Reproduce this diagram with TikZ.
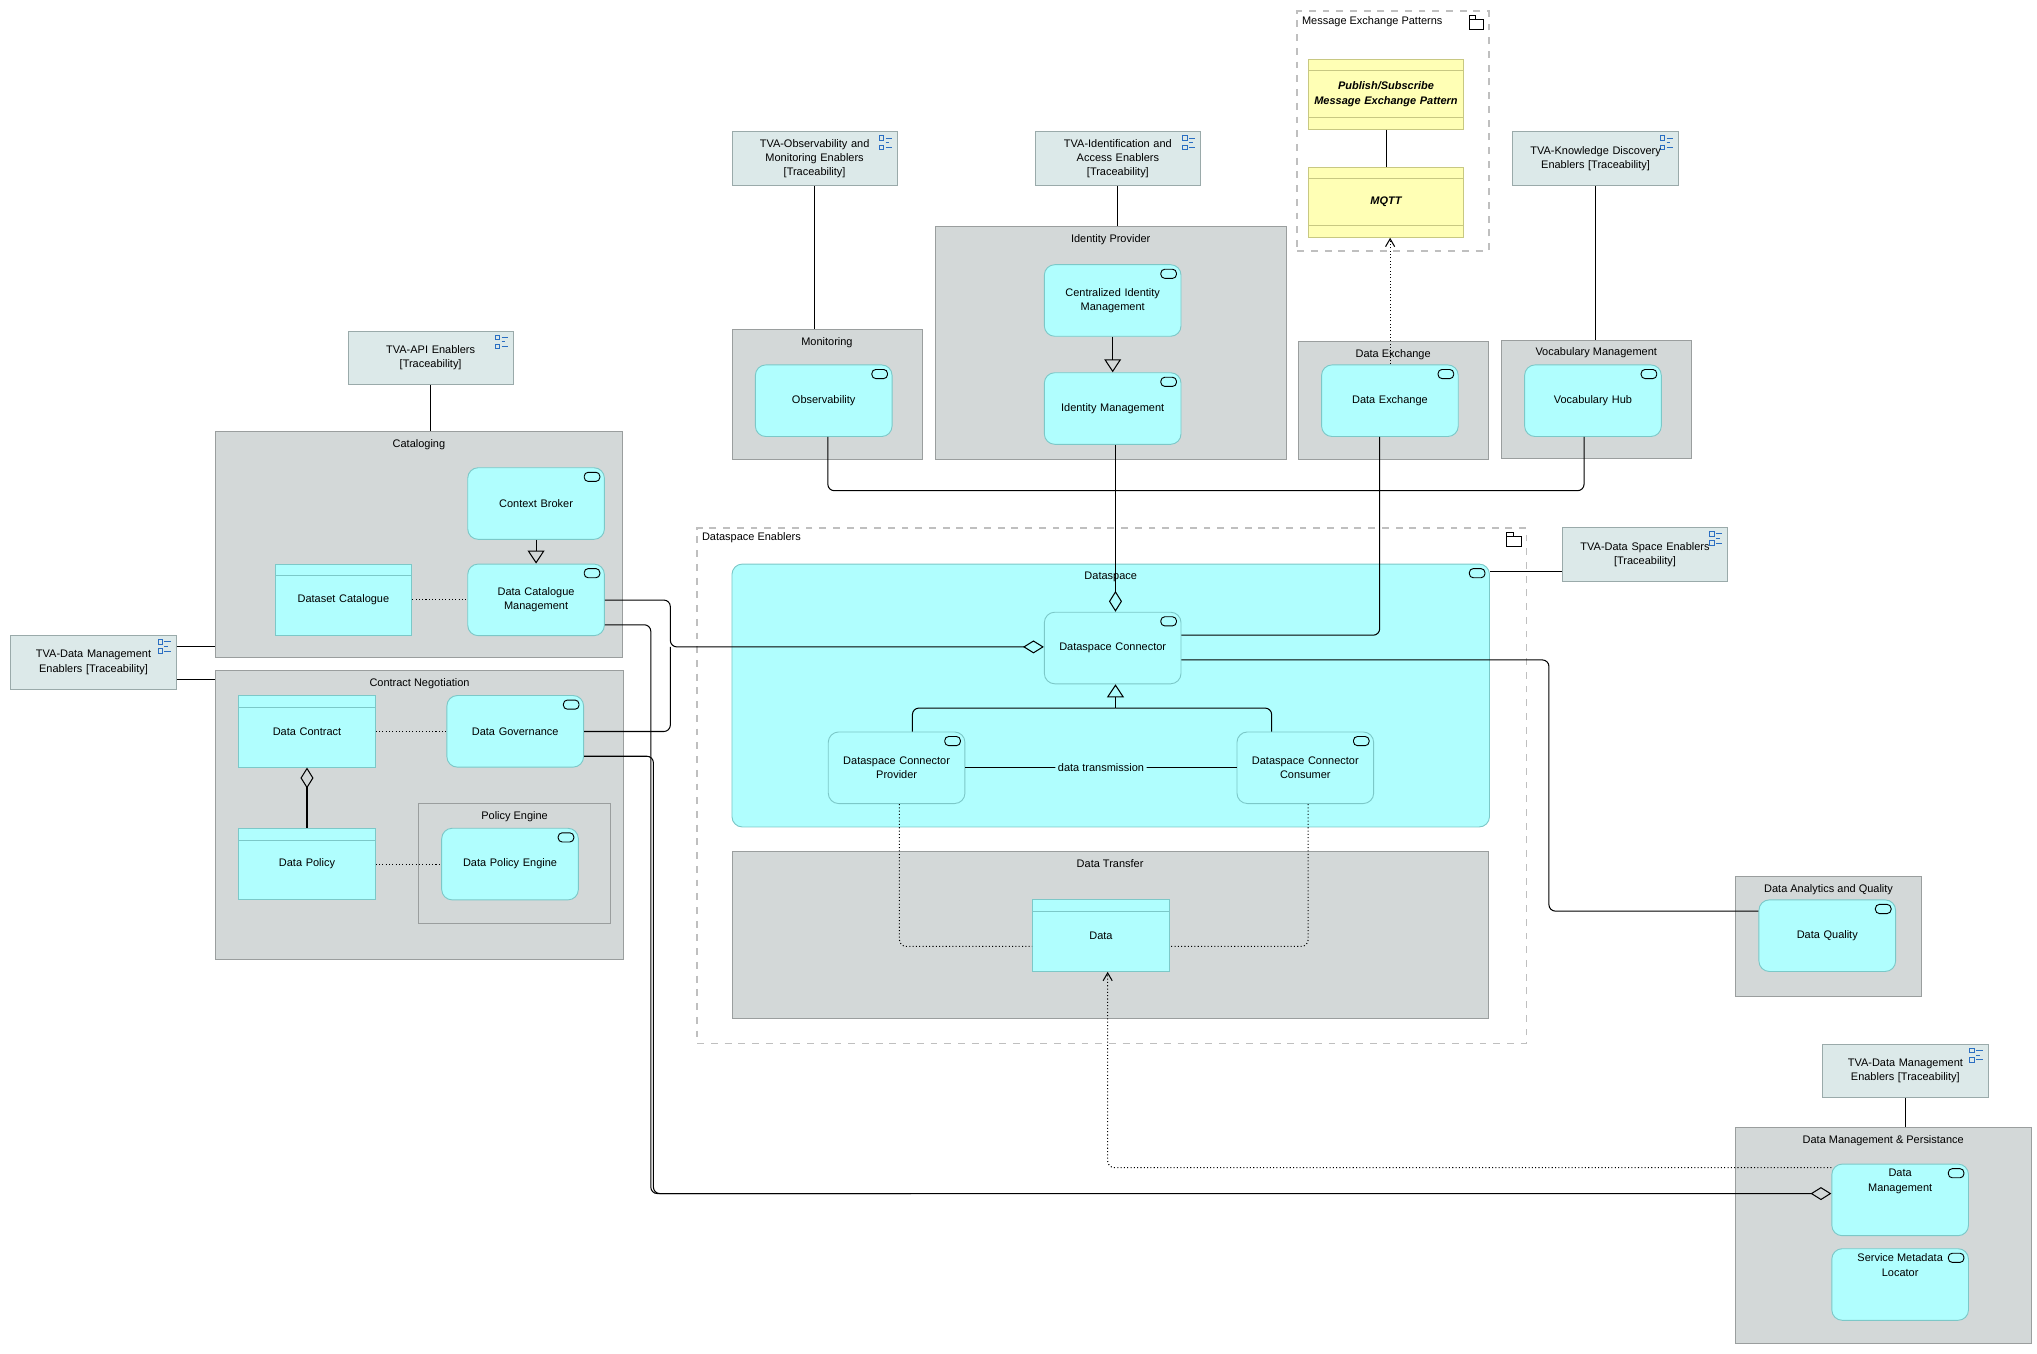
\documentclass[tikz,border=0pt]{standalone}
\usepackage{fontspec}
\setmainfont{Liberation Sans}
\usetikzlibrary{arrows.meta}
\definecolor{svcfill}{HTML}{B0FEFE}
\definecolor{svcline}{HTML}{7CC8C8}
\definecolor{grpfill}{HTML}{D3D8D8}
\definecolor{grpline}{HTML}{9A9E9E}
\definecolor{tvafill}{HTML}{DCE9E9}
\definecolor{tvaline}{HTML}{9AAAAA}
\definecolor{patfill}{HTML}{FFFFB5}
\definecolor{patline}{HTML}{C8C882}
\definecolor{iconblue}{HTML}{2A6EC2}
\begin{document}
\begin{tikzpicture}[x=0.2mm,y=-0.2mm,font=\fontsize{4.8}{6.2}\selectfont,
  every node/.style={anchor=north west,inner sep=0pt,align=center},
  svc/.style={draw=svcline,fill=svcfill,rounded corners=1.6mm,minimum width=21mm,minimum height=11mm,text width=19mm,
    path picture={\draw[black,rounded corners=0.6mm] ([shift={(-3.1mm,-0.7mm)}]path picture bounding box.north east) rectangle ++(2.4mm,-1.4mm);}},
  dobj/.style={draw=svcline,fill=svcfill,minimum width=21mm,minimum height=11mm,text width=19mm,
    path picture={\draw[svcline] ([yshift=-1.8mm]path picture bounding box.north west) -- ++(21mm,0);}},
  pat/.style={draw=patline,fill=patfill,minimum width=23.8mm,minimum height=10.8mm,text width=23mm,font=\fontsize{4.8}{6.2}\selectfont\bfseries\itshape,
    path picture={\draw[patline] ([yshift=-1.8mm]path picture bounding box.north west) -- ++(24mm,0)
      ([yshift=1.8mm]path picture bounding box.south west) -- ++(24mm,0);}},
  grp/.style={draw=grpline,fill=grpfill},
  dgrp/.style={draw=black!25,dashed,thick,
    path picture={\draw[black,solid,thin] ([shift={(-3mm,-1.3mm)}]path picture bounding box.north east) rectangle ++(2.2mm,-1.5mm)
      ([shift={(-3mm,-1.3mm)}]path picture bounding box.north east) -- ++(0,0.6mm) -- ++(1mm,0) -- ++(0,-0.6mm);}},
  glabel/.style={anchor=north,inner sep=1.2mm},
  dlabel/.style={anchor=north west,inner sep=0.8mm},
  tva/.style={draw=tvaline,fill=tvafill,minimum width=25.4mm,minimum height=8.2mm,text width=22mm,
    path picture={\draw[iconblue,line width=0.3pt]
      ([shift={(-2.8mm,-0.6mm)}]path picture bounding box.north east) rectangle ++(0.7mm,-0.7mm)
      ([shift={(-2.8mm,-2mm)}]path picture bounding box.north east) rectangle ++(0.7mm,-0.7mm)
      ([shift={(-1.8mm,-0.95mm)}]path picture bounding box.north east) -- ++(1mm,0)
      ([shift={(-1.8mm,-1.65mm)}]path picture bounding box.north east) -- ++(0.6mm,0)
      ([shift={(-1.8mm,-2.35mm)}]path picture bounding box.north east) -- ++(1mm,0);}},
  conn/.style={draw,line width=0.45pt,rounded corners=1mm},
  agg/.style={conn,-{Diamond[open,length=3.2mm,width=2mm]}},
  spec/.style={conn,-{Triangle[open,length=2mm,width=2.6mm]}},
  dots/.style={draw,densely dotted,line width=0.45pt,rounded corners=1mm},
  flow/.style={dots,-{Straight Barb[length=1.2mm,width=1.4mm]}}]
\useasboundingbox (0,0) rectangle (1565,1040);
% groups
\node[grp,minimum width=62.6mm,minimum height=34.8mm,label={[glabel]north:Cataloging}] (catalog) at (165,331) {};
\node[grp,minimum width=62.8mm,minimum height=44.4mm,label={[glabel]north:Contract Negotiation}] (contract) at (165,515) {};
\node[grp,minimum width=29.6mm,minimum height=18.4mm,label={[glabel]north:Policy Engine}] (poleng) at (321,617) {};
\node[grp,minimum width=29.2mm,minimum height=20mm,label={[glabel]north:Monitoring}] (monitor) at (562,253) {};
\node[grp,minimum width=54mm,minimum height=35.8mm,label={[glabel]north:Identity Provider}] (idprov) at (718,174) {};
\node[dgrp,minimum width=29.4mm,minimum height=36.8mm,label={[dlabel]north west:Message Exchange Patterns}] (mep) at (996,8) {};
\node[grp,minimum width=29.2mm,minimum height=18.2mm,label={[glabel]north:Data Exchange}] (dexgrp) at (997,262) {};
\node[grp,minimum width=29.2mm,minimum height=18.2mm,label={[glabel]north:Vocabulary Management}] (vocab) at (1153,261) {};
\node[dgrp,minimum width=127.4mm,minimum height=79.2mm,label={[dlabel]north west:Dataspace Enablers}] (dsenab) at (535,405) {};
\node[svc,minimum width=116.4mm,minimum height=40.4mm,rounded corners=1.6mm,label={[glabel]north:Dataspace}] (dspace) at (562,433) {};
\node[grp,minimum width=116.2mm,minimum height=25.6mm,label={[glabel]north:Data Transfer}] (dtrans) at (562,654) {};
\node[grp,minimum width=28.6mm,minimum height=18.4mm,label={[glabel]north:Data Analytics and Quality}] (daq) at (1333,673) {};
\node[grp,minimum width=45.4mm,minimum height=33.2mm,label={[glabel]north:Data Management \& Persistance}] (dmp) at (1333,866) {};
% traceability boxes
\node[tva] (tvaapi) at (267,254) {TVA-API Enablers\\{}[Traceability]};
\node[tva] (tvadml) at (8,488) {TVA-Data Management\\Enablers [Traceability]};
\node[tva] (tvaobs) at (562,101) {TVA-Observability and\\Monitoring Enablers\\{}[Traceability]};
\node[tva] (tvaida) at (795,101) {TVA-Identification and\\Access Enablers\\{}[Traceability]};
\node[tva] (tvakd) at (1162,101) {TVA-Knowledge Discovery\\Enablers [Traceability]};
\node[tva] (tvads) at (1200,405) {TVA-Data Space Enablers\\{}[Traceability]};
\node[tva] (tvadmr) at (1400,802) {TVA-Data Management\\Enablers [Traceability]};
% elements
\node[svc] (cbroker) at (359,359) {Context Broker};
\node[svc] (dcm) at (359,433) {Data Catalogue\\Management};
\node[dobj] (dscat) at (211,433) {Dataset Catalogue};
\node[dobj] (dcontr) at (183,534) {Data Contract};
\node[svc] (dgov) at (343,534) {Data Governance};
\node[dobj] (dpol) at (183,636) {Data Policy};
\node[svc] (dpeng) at (339,636) {Data Policy Engine};
\node[svc] (obs) at (580,280) {Observability};
\node[svc] (cidm) at (802,203) {Centralized Identity\\Management};
\node[svc] (idm) at (802,286) {Identity Management};
\node[pat] (pubsub) at (1005,45) {Publish/Subscribe\\Message Exchange Pattern};
\node[pat] (mqtt) at (1005,128) {MQTT};
\node[svc] (dexch) at (1015,280) {Data Exchange};
\node[svc] (vhub) at (1171,280) {Vocabulary Hub};
\node[svc] (dsconn) at (802,470) {Dataspace Connector};
\node[svc] (prov) at (636,562) {Dataspace Connector\\Provider};
\node[svc] (cons) at (950,562) {Dataspace Connector\\Consumer};
\node[dobj] (data) at (793,691) {Data};
\node[svc] (dqual) at (1351,691) {Data Quality};
\node[svc,label={[anchor=north,inner sep=0.8mm]north:Data\\Management}] (dmgmt) at (1407,894) {};
\node[svc,label={[anchor=north,inner sep=0.8mm]north:Service Metadata\\Locator}] (smloc) at (1407,959) {};
% relations
\draw[conn] (tvaapi.south) -- (tvaapi.south |- catalog.north);
\draw[conn] (tvadml.east |- 0,497) -- (catalog.west |- 0,497);
\draw[conn] (tvadml.east |- 0,522) -- (contract.west |- 0,522);
\draw[conn] (tvaobs.south) -- (tvaobs.south |- monitor.north);
\draw[conn] (tvaida.south) -- (tvaida.south |- idprov.north);
\draw[conn] (tvakd.south) -- (tvakd.south |- vocab.north);
\draw[conn] (tvads.west |- 0,439) -- (dspace.east |- 0,439);
\draw[conn] (tvadmr.south) -- (tvadmr.south |- dmp.north);
\draw[spec] (cbroker) -- (dcm);
\draw[spec] (cidm) -- (idm);
\draw[dots] (dscat) -- (dcm);
\draw[dots] (dcontr) -- (dgov);
\draw[dots] (dpol) -- (dpeng);
\draw[agg] (dpol) -- (dcontr);
\draw[conn] (pubsub) -- (mqtt);
\draw[flow] (dexch.north -| 1068,0) -- (mqtt.south -| 1068,0);
\draw[conn] (obs.south -| 636,0) |- (857,377);
\draw[conn] (vhub.south -| 1217,0) |- (857,377);
\draw[agg] (idm.south -| 857,0) -- (dsconn.north -| 857,0);
\draw[conn] (dexch.south -| 1060,0) |- (dsconn.east |- 0,488);
\draw[conn] (dsconn.east |- 0,507) -- (1190,507) -- (1190,700) -- (dqual.west |- 0,700);
\draw[agg] (dcm.east |- 0,461) -- (515,461) -- (515,497) -- (dsconn.west |- 0,497);
\draw[conn] (dgov.east |- 0,562) -- (515,562) -- (515,497);
\draw[agg] (dcm.east |- 0,480) -- (500,480) -- (500,917) -- (dmgmt.west |- 0,917);
\draw[conn] (dgov.east |- 0,581) -- (502,581) -- (502,917) -- (700,917);
\draw[conn] (prov.north -| 701,0) |- (857,544);
\draw[conn] (cons.north -| 977,0) |- (857,544);
\draw[spec] (857,544) -- (dsconn.south -| 857,0);
\draw[conn] (prov) -- node[anchor=center,fill=svcfill,inner sep=0.4mm] {data transmission} (cons);
\draw[dots] (prov.south -| 691,0) |- (data.west |- 0,727);
\draw[dots] (cons.south -| 1005,0) |- (data.east |- 0,727);
\draw[flow] (dmgmt.west |- 0,897) -| (data.south -| 851,0);
\end{tikzpicture}
\end{document}
